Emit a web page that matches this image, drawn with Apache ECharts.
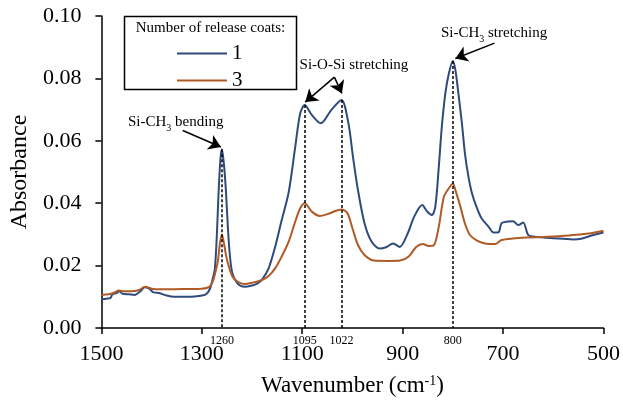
<!DOCTYPE html>
<html>
<head>
<meta charset="utf-8">
<script src="https://cdn.jsdelivr.net/npm/echarts@6/dist/echarts.min.js"></script>
<style>
  html, body { margin: 0; padding: 0; background: #fff; }
  #chart { width: 623px; height: 408px; }
</style>
</head>
<body>
<div id="chart"></div>
<script>
// spectra: wavenumber (cm-1) and absorbance
var wn1 = [1500, 1490, 1482, 1478, 1470, 1464, 1458, 1445, 1434, 1422, 1414, 1405, 1396, 1385, 1370, 1355, 1330, 1310, 1292,
  1284, 1278, 1274, 1270, 1267, 1263, 1260, 1256, 1252, 1248, 1244, 1239, 1229, 1215, 1200, 1189, 1180, 1167, 1154, 1141, 1127,
  1114, 1104, 1095, 1081, 1063, 1042, 1022, 1008, 999, 989, 976, 962, 946, 933, 919, 906, 890, 877, 861, 852, 842, 835,
  828, 822, 815, 808, 800, 795, 789, 782, 776, 769, 762, 752, 743, 729, 719, 709, 703, 690, 680, 670, 660, 650, 640, 620,
  600, 580, 560, 545, 520, 500]
var abs1 = [0.0092, 0.0094, 0.0096, 0.0108, 0.0112, 0.0118, 0.0110, 0.0108, 0.0106, 0.0118, 0.0131, 0.0126, 0.0114, 0.0112,
  0.0104, 0.0100, 0.0100, 0.0102, 0.0108, 0.0125, 0.0160, 0.0190, 0.0300, 0.0420, 0.0540, 0.0573, 0.0525, 0.0440, 0.0320,
  0.0230, 0.0175, 0.0143, 0.0132, 0.0136, 0.0143, 0.0155, 0.0191, 0.0260, 0.0345, 0.0435, 0.0580, 0.0688, 0.0715, 0.0683, 0.0656,
  0.0699, 0.0731, 0.0656, 0.0549, 0.0442, 0.0336, 0.0277, 0.0255, 0.0259, 0.0271, 0.0260, 0.0303, 0.0357, 0.0394, 0.0375,
  0.0362, 0.0389, 0.0517, 0.0645, 0.0752, 0.0816, 0.0856, 0.0827, 0.0752, 0.0656, 0.0560, 0.0485, 0.0432, 0.0384, 0.0352,
  0.0325, 0.0306, 0.0307, 0.0336, 0.0341, 0.0342, 0.0330, 0.0338, 0.0298, 0.0293, 0.0290, 0.0288, 0.0286, 0.0284, 0.0286,
  0.0298, 0.0306]

var wn3 = [1500, 1485, 1475, 1465, 1455, 1440, 1425, 1413, 1400, 1385, 1360, 1330, 1300, 1285, 1278, 1272, 1268, 1264, 1260,
  1256, 1252, 1248, 1239, 1229, 1215, 1200, 1180, 1167, 1154, 1141, 1127, 1114, 1104, 1095, 1081, 1065, 1050, 1022, 1010,
  999, 989, 976, 957, 930, 905, 888, 873, 860, 848, 838, 828, 818, 808, 800, 795, 785, 776, 766, 752, 736, 716, 703, 680,
  650, 620, 590, 560, 530, 500]
var abs3 = [0.0106, 0.0108, 0.0113, 0.0120, 0.0118, 0.0118, 0.0122, 0.0132, 0.0126, 0.0124, 0.0124, 0.0125, 0.0126, 0.0132,
  0.0150, 0.0185, 0.0215, 0.0270, 0.0300, 0.0272, 0.0235, 0.0207, 0.0165, 0.0149, 0.0141, 0.0145, 0.0154, 0.0167, 0.0191,
  0.0229, 0.0277, 0.0341, 0.0384, 0.0400, 0.0373, 0.0359, 0.0365, 0.0380, 0.0368, 0.0314, 0.0266, 0.0234, 0.0216, 0.0215,
  0.0216, 0.0229, 0.0260, 0.0269, 0.0263, 0.0265, 0.0325, 0.0420, 0.0448, 0.0462, 0.0442, 0.0389, 0.0335, 0.0298, 0.0280,
  0.0271, 0.0269, 0.0282, 0.0287, 0.0290, 0.0292, 0.0294, 0.0298, 0.0303, 0.0312]

// marked peaks: position and top of the dashed drop line
var peakWn = [1260, 1095, 1022, 800]
var peakTop = [0.0573, 0.0715, 0.0731, 0.0856]

var FONT = 'Liberation Serif'

function pairs(xs, ys) {
  return xs.map(function (x, i) { return [x, ys[i]] })
}

var dropLines = peakWn.map(function (w, i) {
  return [{ coord: [w, peakTop[i]] }, { coord: [w, 0] }]
})

var peakLabels = peakWn.map(function (w) {
  return { coord: [w, 0], value: String(w) }
})

var arrows = [
  [{ coord: [1338, 0.0633] }, { coord: [1262, 0.0580] }],
  [{ coord: [1036, 0.0804] }, { coord: [1094, 0.0724] }],
  [{ coord: [1036, 0.0804] }, { coord: [1021, 0.0752] }],
  [{ coord: [717, 0.0913] }, { coord: [795, 0.0864] }]
]

var notes = [
  { coord: [1352, 0.0660], value: 'Si-CH{sub|3} bending' },
  { coord: [997, 0.0843], value: 'Si-O-Si stretching' },
  { coord: [718, 0.0946], value: 'Si-CH{sub|3} stretching' }
]

var option = {
  animation: false,
  backgroundColor: '#fff',
  grid: { left: 100, right: 18, top: 16, bottom: 80 },
  legend: {
    data: ['1', '3'],
    orient: 'vertical',
    left: 172,
    top: 38,
    icon: 'rect',
    itemWidth: 50,
    itemHeight: 2,
    itemGap: 6,
    textStyle: { fontFamily: FONT, fontSize: 21, color: '#000' }
  },
  graphic: [
    {
      type: 'rect',
      z: 0,
      shape: { x: 124.5, y: 16.5, width: 172, height: 73 },
      style: { fill: 'transparent', stroke: '#000', lineWidth: 1.5 }
    },
    {
      type: 'text',
      z: 10,
      x: 210.5,
      y: 28,
      style: {
        text: 'Number of release coats:',
        fontFamily: FONT,
        fontSize: 15,
        fill: '#000',
        align: 'center',
        verticalAlign: 'middle'
      }
    }
  ],
  xAxis: {
    type: 'value',
    inverse: true,
    min: 500,
    max: 1500,
    interval: 200,
    name: 'Wavenumber (cm{sup|-1})',
    nameLocation: 'middle',
    nameGap: 46,
    nameTextStyle: {
      fontFamily: FONT,
      fontSize: 23,
      color: '#000',
      rich: { sup: { fontFamily: FONT, fontSize: 14, verticalAlign: 'top', lineHeight: 14, color: '#000' } }
    },
    axisLine: { lineStyle: { color: '#000', width: 1.5 } },
    axisTick: { length: 6, lineStyle: { color: '#000', width: 1.5 } },
    axisLabel: {
      fontFamily: FONT, fontSize: 22, color: '#000', margin: 15,
      formatter: function (v) { return String(v) }
    },
    splitLine: { show: false }
  },
  yAxis: {
    type: 'value',
    min: 0,
    max: 0.1,
    interval: 0.02,
    name: 'Absorbance',
    nameLocation: 'middle',
    nameGap: 68,
    nameTextStyle: { fontFamily: FONT, fontSize: 24, color: '#000' },
    axisLine: { show: true, lineStyle: { color: '#000', width: 1.5 } },
    axisTick: { show: true, length: 6, lineStyle: { color: '#000', width: 1.5 } },
    axisLabel: {
      fontFamily: FONT, fontSize: 22, color: '#000', margin: 20,
      formatter: function (v) { return v.toFixed(2) }
    },
    splitLine: { show: false }
  },
  series: [
    {
      name: '1',
      type: 'line',
      data: pairs(wn1, abs1),
      showSymbol: false,
      symbol: 'none',
      smooth: 0.3,
      z: 3,
      lineStyle: { color: '#2f4b7c', width: 2 },
      itemStyle: { color: '#2f4b7c' },
      markLine: {
        silent: true,
        symbol: 'none',
        label: { show: false },
        lineStyle: { type: [3, 2], color: '#000', width: 1.5 },
        data: dropLines
      },
      markPoint: {
        silent: true,
        symbol: 'circle',
        symbolSize: 0,
        itemStyle: { color: 'transparent' },
        label: {
          show: true,
          position: 'inside',
          offset: [0, 13],
          fontFamily: FONT,
          fontSize: 12,
          color: '#000',
          formatter: '{c}'
        },
        data: peakLabels
      }
    },
    {
      name: '3',
      type: 'line',
      data: pairs(wn3, abs3),
      showSymbol: false,
      symbol: 'none',
      smooth: 0.3,
      z: 3,
      lineStyle: { color: '#b05a26', width: 2 },
      itemStyle: { color: '#b05a26' },
      markLine: {
        silent: true,
        symbol: ['none', 'arrow'],
        symbolSize: 12,
        label: { show: false },
        lineStyle: { type: 'solid', color: '#000', width: 1.5 },
        data: arrows
      },
      markPoint: {
        silent: true,
        symbol: 'circle',
        symbolSize: 0,
        itemStyle: { color: 'transparent' },
        label: {
          show: true,
          position: 'inside',
          fontFamily: FONT,
          fontSize: 15,
          color: '#000',
          formatter: function (p) { return p.value },
          rich: { sub: { fontFamily: FONT, fontSize: 10, verticalAlign: 'bottom', lineHeight: 10, padding: [0, 0, -4, 0], color: '#000' } }
        },
        data: notes
      }
    }
  ]
}

var chart = echarts.init(document.getElementById('chart'))
chart.setOption(option)
</script>
</body>
</html>
